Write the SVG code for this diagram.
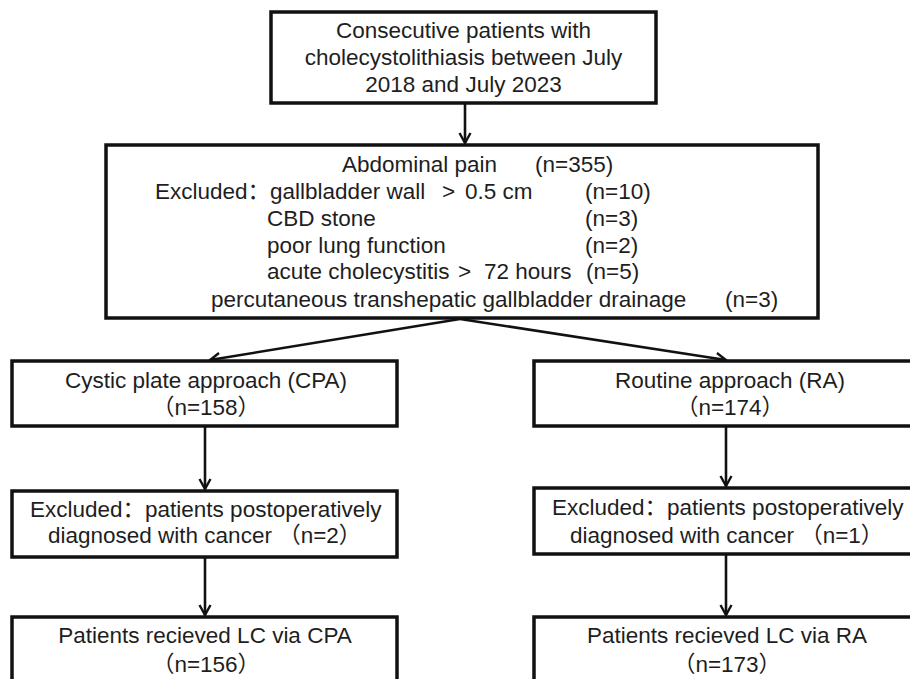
<svg xmlns="http://www.w3.org/2000/svg" width="910" height="679" viewBox="0 0 910 679">
<style>
.box{fill:#fff;stroke:#111;stroke-width:3.5}
.t{font-family:"Liberation Sans","Noto Sans CJK SC",sans-serif;font-size:22.5px;fill:#1e1e1e}
.c{text-anchor:middle}
.ln{fill:none;stroke:#111;stroke-width:2.6}
</style>
<defs>
<marker id="ah" viewBox="0 0 14 14" refX="12.5" refY="7" markerWidth="14" markerHeight="14" markerUnits="userSpaceOnUse" orient="auto">
<path d="M2.5,1.5 L12.5,7 L2.5,12.5" fill="none" stroke="#111" stroke-width="2.4"/>
</marker>
</defs>
<rect width="910" height="679" fill="#fff"/>
<g id="connectors">
<line class="ln" x1="465" y1="103" x2="465" y2="143" marker-end="url(#ah)"/>
<line class="ln" x1="460" y1="319" x2="210" y2="360" marker-end="url(#ah)"/>
<line class="ln" x1="460" y1="319" x2="726" y2="360" marker-end="url(#ah)"/>
<line class="ln" x1="205" y1="426" x2="205" y2="489" marker-end="url(#ah)"/>
<line class="ln" x1="726" y1="426" x2="726" y2="486" marker-end="url(#ah)"/>
<line class="ln" x1="205" y1="557" x2="205" y2="615" marker-end="url(#ah)"/>
<line class="ln" x1="726" y1="554" x2="726" y2="615" marker-end="url(#ah)"/>
</g>
<g id="n-start">
<rect class="box" x="271" y="12" width="385" height="91"/>
<text class="t c" x="463.5" y="38">Consecutive patients with</text>
<text class="t c" x="463.5" y="65">cholecystolithiasis between July</text>
<text class="t c" x="463.5" y="92">2018 and July 2023</text>
</g>
<g id="n-pain">
<rect class="box" x="106" y="145" width="712" height="173"/>
<text class="t" y="172"><tspan x="342">Abdominal pain</tspan><tspan x="535">(n=355)</tspan></text>
<text class="t" y="199"><tspan x="155">Excluded：gallbladder wall</tspan><tspan x="442">&gt;</tspan><tspan x="465">0.5 cm</tspan><tspan x="585">(n=10)</tspan></text>
<text class="t" y="226"><tspan x="267">CBD stone</tspan><tspan x="585">(n=3)</tspan></text>
<text class="t" y="253"><tspan x="267">poor lung function</tspan><tspan x="585">(n=2)</tspan></text>
<text class="t" y="279"><tspan x="267">acute cholecystitis</tspan><tspan x="458">&gt;</tspan><tspan x="484">72 hours</tspan><tspan x="586">(n=5)</tspan></text>
<text class="t" y="307"><tspan x="211">percutaneous transhepatic gallbladder drainage</tspan><tspan x="725">(n=3)</tspan></text>
</g>
<g id="n-cpa">
<rect class="box" x="12" y="361" width="385" height="65"/>
<text class="t c" x="206" y="388">Cystic plate approach (CPA)</text>
<text class="t c" x="206" y="415">（n=158）</text>
</g>
<g id="n-ra">
<rect class="box" x="534" y="361" width="392" height="65"/>
<text class="t c" x="730" y="388">Routine approach (RA)</text>
<text class="t c" x="730" y="415">（n=174）</text>
</g>
<g id="n-excl-cpa">
<rect class="box" x="12" y="491" width="385" height="66"/>
<text class="t" x="30" y="517">Excluded：patients postoperatively</text>
<text class="t" x="48" y="543">diagnosed with cancer （n=2）</text>
</g>
<g id="n-excl-ra">
<rect class="box" x="534" y="488" width="392" height="66"/>
<text class="t" x="552" y="515">Excluded：patients postoperatively</text>
<text class="t" x="570" y="543">diagnosed with cancer （n=1）</text>
</g>
<g id="n-final-cpa">
<rect class="box" x="12" y="617" width="385" height="80"/>
<text class="t c" x="205" y="643">Patients recieved LC via CPA</text>
<text class="t c" x="206" y="672">（n=156）</text>
</g>
<g id="n-final-ra">
<rect class="box" x="534" y="617" width="392" height="80"/>
<text class="t c" x="727" y="643">Patients recieved LC via RA</text>
<text class="t c" x="727" y="672">（n=173）</text>
</g>
</svg>
